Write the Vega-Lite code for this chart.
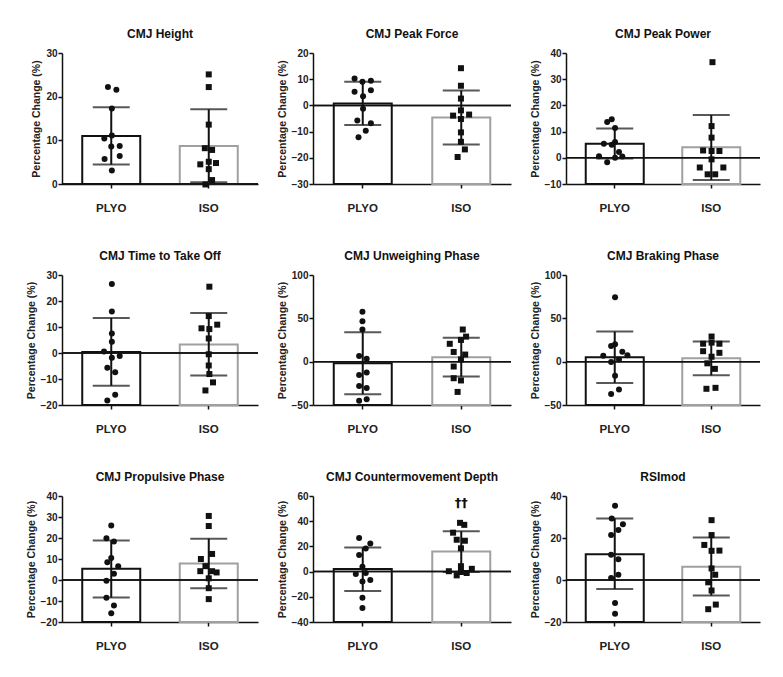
{
"$schema": "https://vega.github.io/schema/vega-lite/v6.json",
"background": "white",
"padding": {"left": 26, "top": 28, "right": 5, "bottom": 5},
"datasets": {
"summary": [
{"panel":"p1","group":"PLYO","mean":11.0,"lo":4.45,"hi":17.6},
{"panel":"p1","group":"ISO","mean":8.7,"lo":0.4,"hi":17.1},
{"panel":"p2","group":"PLYO","mean":0.7,"lo":-7.5,"hi":9.0},
{"panel":"p2","group":"ISO","mean":-4.6,"lo":-14.9,"hi":5.7},
{"panel":"p3","group":"PLYO","mean":5.4,"lo":-0.3,"hi":11.2},
{"panel":"p3","group":"ISO","mean":4.0,"lo":-8.5,"hi":16.3},
{"panel":"p4","group":"PLYO","mean":0.4,"lo":-12.6,"hi":13.5},
{"panel":"p4","group":"ISO","mean":3.3,"lo":-8.7,"hi":15.4},
{"panel":"p5","group":"PLYO","mean":-1.8,"lo":-37.5,"hi":33.8},
{"panel":"p5","group":"ISO","mean":5.2,"lo":-17.2,"hi":27.7},
{"panel":"p6","group":"PLYO","mean":5.0,"lo":-24.5,"hi":34.7},
{"panel":"p6","group":"ISO","mean":3.8,"lo":-15.8,"hi":23.4},
{"panel":"p7","group":"PLYO","mean":5.3,"lo":-8.3,"hi":18.8},
{"panel":"p7","group":"ISO","mean":7.8,"lo":-3.9,"hi":19.7},
{"panel":"p8","group":"PLYO","mean":2.0,"lo":-15.3,"hi":19.1},
{"panel":"p8","group":"ISO","mean":16.0,"lo":-0.3,"hi":32.0},
{"panel":"p9","group":"PLYO","mean":12.3,"lo":-4.3,"hi":29.3},
{"panel":"p9","group":"ISO","mean":6.3,"lo":-7.4,"hi":20.2}
],
"points": [
{"panel":"p1","group":"PLYO","v":22.2,"j":-0.11},{"panel":"p1","group":"PLYO","v":21.6,"j":0.17},{"panel":"p1","group":"PLYO","v":17.3,"j":0.02},{"panel":"p1","group":"PLYO","v":10.4,"j":-0.23},{"panel":"p1","group":"PLYO","v":11.1,"j":0.02},{"panel":"p1","group":"PLYO","v":8.6,"j":0},{"panel":"p1","group":"PLYO","v":8.7,"j":0.28},{"panel":"p1","group":"PLYO","v":5.7,"j":-0.22},{"panel":"p1","group":"PLYO","v":6.4,"j":0.28},{"panel":"p1","group":"PLYO","v":3.1,"j":0.02},
{"panel":"p1","group":"ISO","v":25.1,"j":0},{"panel":"p1","group":"ISO","v":22.2,"j":0},{"panel":"p1","group":"ISO","v":13.6,"j":0},{"panel":"p1","group":"ISO","v":8.2,"j":-0.13},{"panel":"p1","group":"ISO","v":7.8,"j":0.11},{"panel":"p1","group":"ISO","v":4.5,"j":-0.28},{"panel":"p1","group":"ISO","v":5.1,"j":0},{"panel":"p1","group":"ISO","v":4.8,"j":0.24},{"panel":"p1","group":"ISO","v":3.4,"j":0},{"panel":"p1","group":"ISO","v":0.9,"j":0.11},{"panel":"p1","group":"ISO","v":-0.1,"j":-0.11},
{"panel":"p2","group":"PLYO","v":10.3,"j":-0.26},{"panel":"p2","group":"PLYO","v":9.0,"j":0},{"panel":"p2","group":"PLYO","v":9.4,"j":0.28},{"panel":"p2","group":"PLYO","v":5.2,"j":-0.26},{"panel":"p2","group":"PLYO","v":5.8,"j":0.28},{"panel":"p2","group":"PLYO","v":3.5,"j":0.02},{"panel":"p2","group":"PLYO","v":-1.3,"j":0.02},{"panel":"p2","group":"PLYO","v":-5.8,"j":-0.17},{"panel":"p2","group":"PLYO","v":-6.8,"j":0.28},{"panel":"p2","group":"PLYO","v":-9.7,"j":0.11},{"panel":"p2","group":"PLYO","v":-12.2,"j":-0.13},
{"panel":"p2","group":"ISO","v":14.2,"j":0},{"panel":"p2","group":"ISO","v":7.5,"j":0},{"panel":"p2","group":"ISO","v":2.6,"j":0},{"panel":"p2","group":"ISO","v":-1.9,"j":0},{"panel":"p2","group":"ISO","v":-3.9,"j":-0.26},{"panel":"p2","group":"ISO","v":-3.5,"j":0.27},{"panel":"p2","group":"ISO","v":-5.2,"j":0},{"panel":"p2","group":"ISO","v":-10.3,"j":0},{"panel":"p2","group":"ISO","v":-13.9,"j":0},{"panel":"p2","group":"ISO","v":-16.8,"j":0.13},{"panel":"p2","group":"ISO","v":-19.7,"j":-0.11},
{"panel":"p3","group":"PLYO","v":14.7,"j":-0.11},{"panel":"p3","group":"PLYO","v":13.7,"j":-0.26},{"panel":"p3","group":"PLYO","v":11.4,"j":0},{"panel":"p3","group":"PLYO","v":5.4,"j":-0.37},{"panel":"p3","group":"PLYO","v":6.0,"j":0},{"panel":"p3","group":"PLYO","v":5.0,"j":-0.11},{"panel":"p3","group":"PLYO","v":2.2,"j":0.13},{"panel":"p3","group":"PLYO","v":0.6,"j":-0.53},{"panel":"p3","group":"PLYO","v":0.5,"j":0.24},{"panel":"p3","group":"PLYO","v":-1.7,"j":-0.26},{"panel":"p3","group":"PLYO","v":0.0,"j":0},
{"panel":"p3","group":"ISO","v":36.5,"j":0.03},{"panel":"p3","group":"ISO","v":12.1,"j":0},{"panel":"p3","group":"ISO","v":7.7,"j":0},{"panel":"p3","group":"ISO","v":2.8,"j":-0.28},{"panel":"p3","group":"ISO","v":2.6,"j":0},{"panel":"p3","group":"ISO","v":2.6,"j":0.26},{"panel":"p3","group":"ISO","v":-0.6,"j":0},{"panel":"p3","group":"ISO","v":-3.7,"j":-0.39},{"panel":"p3","group":"ISO","v":-3.7,"j":0.39},{"panel":"p3","group":"ISO","v":-6.3,"j":-0.13},{"panel":"p3","group":"ISO","v":-6.3,"j":0.12},
{"panel":"p4","group":"PLYO","v":26.5,"j":0.02},{"panel":"p4","group":"PLYO","v":16.0,"j":0.02},{"panel":"p4","group":"PLYO","v":7.5,"j":0.02},{"panel":"p4","group":"PLYO","v":4.3,"j":0.02},{"panel":"p4","group":"PLYO","v":0.6,"j":-0.24},{"panel":"p4","group":"PLYO","v":-1.8,"j":0.02},{"panel":"p4","group":"PLYO","v":-1.2,"j":0.28},{"panel":"p4","group":"PLYO","v":-5.7,"j":-0.13},{"panel":"p4","group":"PLYO","v":-7.4,"j":0.13},{"panel":"p4","group":"PLYO","v":-16.1,"j":0.13},{"panel":"p4","group":"PLYO","v":-18.3,"j":-0.13},
{"panel":"p4","group":"ISO","v":25.5,"j":0.02},{"panel":"p4","group":"ISO","v":14.2,"j":0},{"panel":"p4","group":"ISO","v":9.5,"j":-0.24},{"panel":"p4","group":"ISO","v":9.2,"j":0.02},{"panel":"p4","group":"ISO","v":10.9,"j":0.28},{"panel":"p4","group":"ISO","v":5.6,"j":0},{"panel":"p4","group":"ISO","v":-0.5,"j":0},{"panel":"p4","group":"ISO","v":-4.8,"j":0},{"panel":"p4","group":"ISO","v":-8.1,"j":0.02},{"panel":"p4","group":"ISO","v":-11.3,"j":0.14},{"panel":"p4","group":"ISO","v":-14.4,"j":-0.11},
{"panel":"p5","group":"PLYO","v":57.7,"j":0},{"panel":"p5","group":"PLYO","v":46.5,"j":0},{"panel":"p5","group":"PLYO","v":37.1,"j":0},{"panel":"p5","group":"PLYO","v":6.4,"j":-0.11},{"panel":"p5","group":"PLYO","v":3.4,"j":0.14},{"panel":"p5","group":"PLYO","v":-15.4,"j":-0.11},{"panel":"p5","group":"PLYO","v":-12.4,"j":0.14},{"panel":"p5","group":"PLYO","v":-28.1,"j":-0.11},{"panel":"p5","group":"PLYO","v":-30.4,"j":0.14},{"panel":"p5","group":"PLYO","v":-45.0,"j":-0.11},{"panel":"p5","group":"PLYO","v":-43.5,"j":0.14},
{"panel":"p5","group":"ISO","v":37.1,"j":0.06},{"panel":"p5","group":"ISO","v":28.9,"j":0.17},{"panel":"p5","group":"ISO","v":25.1,"j":0},{"panel":"p5","group":"ISO","v":20.6,"j":-0.37},{"panel":"p5","group":"ISO","v":11.2,"j":-0.24},{"panel":"p5","group":"ISO","v":8.2,"j":0.14},{"panel":"p5","group":"ISO","v":2.6,"j":0},{"panel":"p5","group":"ISO","v":-5.6,"j":-0.24},{"panel":"p5","group":"ISO","v":-19.1,"j":-0.24},{"panel":"p5","group":"ISO","v":-21.7,"j":0},{"panel":"p5","group":"ISO","v":-34.9,"j":-0.11},
{"panel":"p6","group":"PLYO","v":74.3,"j":0},{"panel":"p6","group":"PLYO","v":20.0,"j":0},{"panel":"p6","group":"PLYO","v":18.1,"j":-0.13},{"panel":"p6","group":"PLYO","v":11.3,"j":0.24},{"panel":"p6","group":"PLYO","v":6.8,"j":-0.39},{"panel":"p6","group":"PLYO","v":7.5,"j":0.41},{"panel":"p6","group":"PLYO","v":2.6,"j":0.13},{"panel":"p6","group":"PLYO","v":-0.4,"j":-0.13},{"panel":"p6","group":"PLYO","v":-16.2,"j":0},{"panel":"p6","group":"PLYO","v":-32.0,"j":0.13},{"panel":"p6","group":"PLYO","v":-37.3,"j":-0.13},
{"panel":"p6","group":"ISO","v":29.0,"j":0},{"panel":"p6","group":"ISO","v":20.7,"j":-0.28},{"panel":"p6","group":"ISO","v":22.0,"j":0},{"panel":"p6","group":"ISO","v":20.7,"j":0.26},{"panel":"p6","group":"ISO","v":12.1,"j":-0.28},{"panel":"p6","group":"ISO","v":10.2,"j":0.26},{"panel":"p6","group":"ISO","v":5.7,"j":0},{"panel":"p6","group":"ISO","v":-1.9,"j":-0.14},{"panel":"p6","group":"ISO","v":-8.3,"j":0.11},{"panel":"p6","group":"ISO","v":-31.3,"j":-0.17},{"panel":"p6","group":"ISO","v":-30.2,"j":0.13},
{"panel":"p7","group":"PLYO","v":26.0,"j":0},{"panel":"p7","group":"PLYO","v":19.9,"j":-0.16},{"panel":"p7","group":"PLYO","v":18.3,"j":0.09},{"panel":"p7","group":"PLYO","v":10.5,"j":0},{"panel":"p7","group":"PLYO","v":8.5,"j":-0.13},{"panel":"p7","group":"PLYO","v":6.6,"j":0.23},{"panel":"p7","group":"PLYO","v":3.0,"j":0.09},{"panel":"p7","group":"PLYO","v":-0.3,"j":-0.16},{"panel":"p7","group":"PLYO","v":-8.5,"j":-0.16},{"panel":"p7","group":"PLYO","v":-12.2,"j":0.09},{"panel":"p7","group":"PLYO","v":-15.8,"j":0},
{"panel":"p7","group":"ISO","v":30.5,"j":0},{"panel":"p7","group":"ISO","v":25.7,"j":0},{"panel":"p7","group":"ISO","v":12.4,"j":0.11},{"panel":"p7","group":"ISO","v":10.0,"j":-0.26},{"panel":"p7","group":"ISO","v":6.6,"j":-0.11},{"panel":"p7","group":"ISO","v":4.2,"j":-0.28},{"panel":"p7","group":"ISO","v":4.2,"j":0.11},{"panel":"p7","group":"ISO","v":3.6,"j":0.26},{"panel":"p7","group":"ISO","v":0.8,"j":0},{"panel":"p7","group":"ISO","v":-3.9,"j":0},{"panel":"p7","group":"ISO","v":-9.1,"j":0},
{"panel":"p8","group":"PLYO","v":26.6,"j":-0.11},{"panel":"p8","group":"PLYO","v":22.3,"j":0.26},{"panel":"p8","group":"PLYO","v":18.3,"j":0.11},{"panel":"p8","group":"PLYO","v":13.2,"j":-0.11},{"panel":"p8","group":"PLYO","v":3.8,"j":0},{"panel":"p8","group":"PLYO","v":-1.9,"j":-0.22},{"panel":"p8","group":"PLYO","v":-1.1,"j":0.11},{"panel":"p8","group":"PLYO","v":-7.8,"j":0},{"panel":"p8","group":"PLYO","v":-6.7,"j":0.26},{"panel":"p8","group":"PLYO","v":-20.7,"j":0},{"panel":"p8","group":"PLYO","v":-28.8,"j":0},
{"panel":"p8","group":"ISO","v":38.7,"j":-0.03},{"panel":"p8","group":"ISO","v":37.1,"j":0.11},{"panel":"p8","group":"ISO","v":30.9,"j":-0.26},{"panel":"p8","group":"ISO","v":25.3,"j":-0.14},{"panel":"p8","group":"ISO","v":24.5,"j":0.13},{"panel":"p8","group":"ISO","v":18.5,"j":0},{"panel":"p8","group":"ISO","v":4.3,"j":0},{"panel":"p8","group":"ISO","v":2.2,"j":0.36},{"panel":"p8","group":"ISO","v":0.3,"j":-0.4},{"panel":"p8","group":"ISO","v":-0.3,"j":0},{"panel":"p8","group":"ISO","v":-3.0,"j":-0.14},{"panel":"p8","group":"ISO","v":-1.1,"j":0.19},
{"panel":"p9","group":"PLYO","v":35.4,"j":0},{"panel":"p9","group":"PLYO","v":29.3,"j":-0.11},{"panel":"p9","group":"PLYO","v":26.5,"j":0.26},{"panel":"p9","group":"PLYO","v":23.8,"j":0.11},{"panel":"p9","group":"PLYO","v":21.4,"j":-0.13},{"panel":"p9","group":"PLYO","v":12.0,"j":-0.13},{"panel":"p9","group":"PLYO","v":9.9,"j":0.11},{"panel":"p9","group":"PLYO","v":2.5,"j":0.11},{"panel":"p9","group":"PLYO","v":0.9,"j":-0.13},{"panel":"p9","group":"PLYO","v":-11.0,"j":0},{"panel":"p9","group":"PLYO","v":-16.1,"j":0},
{"panel":"p9","group":"ISO","v":28.5,"j":0},{"panel":"p9","group":"ISO","v":21.4,"j":0},{"panel":"p9","group":"ISO","v":16.7,"j":-0.24},{"panel":"p9","group":"ISO","v":13.9,"j":0},{"panel":"p9","group":"ISO","v":14.0,"j":0.26},{"panel":"p9","group":"ISO","v":5.5,"j":0},{"panel":"p9","group":"ISO","v":2.5,"j":0.12},{"panel":"p9","group":"ISO","v":-1.1,"j":-0.11},{"panel":"p9","group":"ISO","v":-5.0,"j":0},{"panel":"p9","group":"ISO","v":-11.7,"j":0.14},{"panel":"p9","group":"ISO","v":-13.9,"j":-0.11}
],
"notes": [
{"panel":"p8","group":"ISO","v":54.6,"label":"††"}
]
},
"columns": 3,
"spacing": {"row": 36, "column": 18},
"concat": [
{"title":"CMJ Height","width":196,"height":131,"resolve":{"scale":{"x":"independent"}},
"layer":[
{"layer":[
{"data":{"name":"summary"},"transform":[{"filter":"datum.panel==='p1'"}],"mark":{"type":"bar","fill":"white","strokeWidth":2,"width":58},
"encoding":{"x":{"field":"group","type":"nominal","sort":["PLYO","ISO"],"title":null,"scale":{"paddingInner":0.38,"paddingOuter":0.195}},
"y":{"field":"mean","type":"quantitative","title":"Percentage Change (%)","scale":{"domain":[0,30],"nice":false,"zero":false},"axis":{"values":[0,10,20,30],"tickCount":20,"labelOverlap":false}},
"y2":{"datum":0},
"stroke":{"condition":{"test":"datum.group==='PLYO'","value":"#111111"},"value":"#a0a0a0"}}},
{"data":{"name":"summary"},"transform":[{"filter":"datum.panel==='p1'"}],"mark":{"type":"rule","color":"#111111","strokeWidth":1.5},"encoding":{"y":{"datum":0,"type":"quantitative","title":"Percentage Change (%)"}}},
{"data":{"name":"summary"},"transform":[{"filter":"datum.panel==='p1'"}],"mark":{"type":"rule","color":"#111111","strokeWidth":2},"encoding":{"x":{"field":"group","type":"nominal","sort":["PLYO","ISO"],"title":null},"y":{"field":"lo","type":"quantitative","title":"Percentage Change (%)"},"y2":{"field":"hi"}}},
{"data":{"name":"summary"},"transform":[{"filter":"datum.panel==='p1'"}],"mark":{"type":"tick","color":"#111111","thickness":2,"size":37},"encoding":{"x":{"field":"group","type":"nominal","sort":["PLYO","ISO"],"title":null},"y":{"field":"hi","type":"quantitative","title":"Percentage Change (%)"}}},
{"data":{"name":"summary"},"transform":[{"filter":"datum.panel==='p1'"}],"mark":{"type":"tick","color":"#111111","thickness":2,"size":37},"encoding":{"x":{"field":"group","type":"nominal","sort":["PLYO","ISO"],"title":null},"y":{"field":"lo","type":"quantitative","title":"Percentage Change (%)"}}}
]},
{"data":{"name":"points"},"transform":[{"filter":"datum.panel==='p1'"}],"mark":{"type":"point","filled":true,"color":"#111111","opacity":1,"size":36},"encoding":{"x":{"field":"group","type":"nominal","sort":["PLYO","ISO"],"axis":null,"scale":{"paddingInner":0.38,"paddingOuter":0.195}},"xOffset":{"field":"j","type":"quantitative","scale":{"domain":[-1,1]}},"y":{"field":"v","type":"quantitative","title":"Percentage Change (%)"},"shape":{"field":"group","type":"nominal","scale":{"domain":["PLYO","ISO"],"range":["circle","square"]},"legend":null}}}
]},
{"title":"CMJ Peak  Force","width":198,"height":131,"resolve":{"scale":{"x":"independent"}},
"layer":[
{"layer":[
{"data":{"name":"summary"},"transform":[{"filter":"datum.panel==='p2'"}],"mark":{"type":"bar","fill":"white","strokeWidth":2,"width":58},
"encoding":{"x":{"field":"group","type":"nominal","sort":["PLYO","ISO"],"title":null,"scale":{"paddingInner":0.38,"paddingOuter":0.195}},
"y":{"field":"mean","type":"quantitative","title":"Percentage Change (%)","scale":{"domain":[-30,20],"nice":false,"zero":false},"axis":{"values":[-30,-20,-10,0,10,20],"tickCount":20,"labelOverlap":false}},
"y2":{"datum":-30},
"stroke":{"condition":{"test":"datum.group==='PLYO'","value":"#111111"},"value":"#a0a0a0"}}},
{"data":{"name":"summary"},"transform":[{"filter":"datum.panel==='p2'"}],"mark":{"type":"rule","color":"#111111","strokeWidth":1.5},"encoding":{"y":{"datum":0,"type":"quantitative","title":"Percentage Change (%)"}}},
{"data":{"name":"summary"},"transform":[{"filter":"datum.panel==='p2'"}],"mark":{"type":"rule","color":"#111111","strokeWidth":2},"encoding":{"x":{"field":"group","type":"nominal","sort":["PLYO","ISO"],"title":null},"y":{"field":"lo","type":"quantitative","title":"Percentage Change (%)"},"y2":{"field":"hi"}}},
{"data":{"name":"summary"},"transform":[{"filter":"datum.panel==='p2'"}],"mark":{"type":"tick","color":"#111111","thickness":2,"size":37},"encoding":{"x":{"field":"group","type":"nominal","sort":["PLYO","ISO"],"title":null},"y":{"field":"hi","type":"quantitative","title":"Percentage Change (%)"}}},
{"data":{"name":"summary"},"transform":[{"filter":"datum.panel==='p2'"}],"mark":{"type":"tick","color":"#111111","thickness":2,"size":37},"encoding":{"x":{"field":"group","type":"nominal","sort":["PLYO","ISO"],"title":null},"y":{"field":"lo","type":"quantitative","title":"Percentage Change (%)"}}}
]},
{"data":{"name":"points"},"transform":[{"filter":"datum.panel==='p2'"}],"mark":{"type":"point","filled":true,"color":"#111111","opacity":1,"size":36},"encoding":{"x":{"field":"group","type":"nominal","sort":["PLYO","ISO"],"axis":null,"scale":{"paddingInner":0.38,"paddingOuter":0.195}},"xOffset":{"field":"j","type":"quantitative","scale":{"domain":[-1,1]}},"y":{"field":"v","type":"quantitative","title":"Percentage Change (%)"},"shape":{"field":"group","type":"nominal","scale":{"domain":["PLYO","ISO"],"range":["circle","square"]},"legend":null}}}
]},
{"title":"CMJ Peak  Power","width":194,"height":131,"resolve":{"scale":{"x":"independent"}},
"layer":[
{"layer":[
{"data":{"name":"summary"},"transform":[{"filter":"datum.panel==='p3'"}],"mark":{"type":"bar","fill":"white","strokeWidth":2,"width":58},
"encoding":{"x":{"field":"group","type":"nominal","sort":["PLYO","ISO"],"title":null,"scale":{"paddingInner":0.38,"paddingOuter":0.195}},
"y":{"field":"mean","type":"quantitative","title":"Percentage Change (%)","scale":{"domain":[-10,40],"nice":false,"zero":false},"axis":{"values":[-10,0,10,20,30,40],"tickCount":20,"labelOverlap":false}},
"y2":{"datum":-10},
"stroke":{"condition":{"test":"datum.group==='PLYO'","value":"#111111"},"value":"#a0a0a0"}}},
{"data":{"name":"summary"},"transform":[{"filter":"datum.panel==='p3'"}],"mark":{"type":"rule","color":"#111111","strokeWidth":1.5},"encoding":{"y":{"datum":0,"type":"quantitative","title":"Percentage Change (%)"}}},
{"data":{"name":"summary"},"transform":[{"filter":"datum.panel==='p3'"}],"mark":{"type":"rule","color":"#111111","strokeWidth":2},"encoding":{"x":{"field":"group","type":"nominal","sort":["PLYO","ISO"],"title":null},"y":{"field":"lo","type":"quantitative","title":"Percentage Change (%)"},"y2":{"field":"hi"}}},
{"data":{"name":"summary"},"transform":[{"filter":"datum.panel==='p3'"}],"mark":{"type":"tick","color":"#111111","thickness":2,"size":37},"encoding":{"x":{"field":"group","type":"nominal","sort":["PLYO","ISO"],"title":null},"y":{"field":"hi","type":"quantitative","title":"Percentage Change (%)"}}},
{"data":{"name":"summary"},"transform":[{"filter":"datum.panel==='p3'"}],"mark":{"type":"tick","color":"#111111","thickness":2,"size":37},"encoding":{"x":{"field":"group","type":"nominal","sort":["PLYO","ISO"],"title":null},"y":{"field":"lo","type":"quantitative","title":"Percentage Change (%)"}}}
]},
{"data":{"name":"points"},"transform":[{"filter":"datum.panel==='p3'"}],"mark":{"type":"point","filled":true,"color":"#111111","opacity":1,"size":36},"encoding":{"x":{"field":"group","type":"nominal","sort":["PLYO","ISO"],"axis":null,"scale":{"paddingInner":0.38,"paddingOuter":0.195}},"xOffset":{"field":"j","type":"quantitative","scale":{"domain":[-1,1]}},"y":{"field":"v","type":"quantitative","title":"Percentage Change (%)"},"shape":{"field":"group","type":"nominal","scale":{"domain":["PLYO","ISO"],"range":["circle","square"]},"legend":null}}}
]},
{"title":"CMJ Time to Take Off","width":196,"height":130,"resolve":{"scale":{"x":"independent"}},
"layer":[
{"layer":[
{"data":{"name":"summary"},"transform":[{"filter":"datum.panel==='p4'"}],"mark":{"type":"bar","fill":"white","strokeWidth":2,"width":58},
"encoding":{"x":{"field":"group","type":"nominal","sort":["PLYO","ISO"],"title":null,"scale":{"paddingInner":0.38,"paddingOuter":0.195}},
"y":{"field":"mean","type":"quantitative","title":"Percentage Change (%)","scale":{"domain":[-20,30],"nice":false,"zero":false},"axis":{"values":[-20,-10,0,10,20,30],"tickCount":20,"labelOverlap":false}},
"y2":{"datum":-20},
"stroke":{"condition":{"test":"datum.group==='PLYO'","value":"#111111"},"value":"#a0a0a0"}}},
{"data":{"name":"summary"},"transform":[{"filter":"datum.panel==='p4'"}],"mark":{"type":"rule","color":"#111111","strokeWidth":1.5},"encoding":{"y":{"datum":0,"type":"quantitative","title":"Percentage Change (%)"}}},
{"data":{"name":"summary"},"transform":[{"filter":"datum.panel==='p4'"}],"mark":{"type":"rule","color":"#111111","strokeWidth":2},"encoding":{"x":{"field":"group","type":"nominal","sort":["PLYO","ISO"],"title":null},"y":{"field":"lo","type":"quantitative","title":"Percentage Change (%)"},"y2":{"field":"hi"}}},
{"data":{"name":"summary"},"transform":[{"filter":"datum.panel==='p4'"}],"mark":{"type":"tick","color":"#111111","thickness":2,"size":37},"encoding":{"x":{"field":"group","type":"nominal","sort":["PLYO","ISO"],"title":null},"y":{"field":"hi","type":"quantitative","title":"Percentage Change (%)"}}},
{"data":{"name":"summary"},"transform":[{"filter":"datum.panel==='p4'"}],"mark":{"type":"tick","color":"#111111","thickness":2,"size":37},"encoding":{"x":{"field":"group","type":"nominal","sort":["PLYO","ISO"],"title":null},"y":{"field":"lo","type":"quantitative","title":"Percentage Change (%)"}}}
]},
{"data":{"name":"points"},"transform":[{"filter":"datum.panel==='p4'"}],"mark":{"type":"point","filled":true,"color":"#111111","opacity":1,"size":36},"encoding":{"x":{"field":"group","type":"nominal","sort":["PLYO","ISO"],"axis":null,"scale":{"paddingInner":0.38,"paddingOuter":0.195}},"xOffset":{"field":"j","type":"quantitative","scale":{"domain":[-1,1]}},"y":{"field":"v","type":"quantitative","title":"Percentage Change (%)"},"shape":{"field":"group","type":"nominal","scale":{"domain":["PLYO","ISO"],"range":["circle","square"]},"legend":null}}}
]},
{"title":"CMJ Unweighing Phase","width":198,"height":130,"resolve":{"scale":{"x":"independent"}},
"layer":[
{"layer":[
{"data":{"name":"summary"},"transform":[{"filter":"datum.panel==='p5'"}],"mark":{"type":"bar","fill":"white","strokeWidth":2,"width":58},
"encoding":{"x":{"field":"group","type":"nominal","sort":["PLYO","ISO"],"title":null,"scale":{"paddingInner":0.38,"paddingOuter":0.195}},
"y":{"field":"mean","type":"quantitative","title":"Percentage Change (%)","scale":{"domain":[-50,100],"nice":false,"zero":false},"axis":{"values":[-50,0,50,100],"tickCount":20,"labelOverlap":false}},
"y2":{"datum":-50},
"stroke":{"condition":{"test":"datum.group==='PLYO'","value":"#111111"},"value":"#a0a0a0"}}},
{"data":{"name":"summary"},"transform":[{"filter":"datum.panel==='p5'"}],"mark":{"type":"rule","color":"#111111","strokeWidth":1.5},"encoding":{"y":{"datum":0,"type":"quantitative","title":"Percentage Change (%)"}}},
{"data":{"name":"summary"},"transform":[{"filter":"datum.panel==='p5'"}],"mark":{"type":"rule","color":"#111111","strokeWidth":2},"encoding":{"x":{"field":"group","type":"nominal","sort":["PLYO","ISO"],"title":null},"y":{"field":"lo","type":"quantitative","title":"Percentage Change (%)"},"y2":{"field":"hi"}}},
{"data":{"name":"summary"},"transform":[{"filter":"datum.panel==='p5'"}],"mark":{"type":"tick","color":"#111111","thickness":2,"size":37},"encoding":{"x":{"field":"group","type":"nominal","sort":["PLYO","ISO"],"title":null},"y":{"field":"hi","type":"quantitative","title":"Percentage Change (%)"}}},
{"data":{"name":"summary"},"transform":[{"filter":"datum.panel==='p5'"}],"mark":{"type":"tick","color":"#111111","thickness":2,"size":37},"encoding":{"x":{"field":"group","type":"nominal","sort":["PLYO","ISO"],"title":null},"y":{"field":"lo","type":"quantitative","title":"Percentage Change (%)"}}}
]},
{"data":{"name":"points"},"transform":[{"filter":"datum.panel==='p5'"}],"mark":{"type":"point","filled":true,"color":"#111111","opacity":1,"size":36},"encoding":{"x":{"field":"group","type":"nominal","sort":["PLYO","ISO"],"axis":null,"scale":{"paddingInner":0.38,"paddingOuter":0.195}},"xOffset":{"field":"j","type":"quantitative","scale":{"domain":[-1,1]}},"y":{"field":"v","type":"quantitative","title":"Percentage Change (%)"},"shape":{"field":"group","type":"nominal","scale":{"domain":["PLYO","ISO"],"range":["circle","square"]},"legend":null}}}
]},
{"title":"CMJ Braking Phase","width":194,"height":130,"resolve":{"scale":{"x":"independent"}},
"layer":[
{"layer":[
{"data":{"name":"summary"},"transform":[{"filter":"datum.panel==='p6'"}],"mark":{"type":"bar","fill":"white","strokeWidth":2,"width":58},
"encoding":{"x":{"field":"group","type":"nominal","sort":["PLYO","ISO"],"title":null,"scale":{"paddingInner":0.38,"paddingOuter":0.195}},
"y":{"field":"mean","type":"quantitative","title":"Percentage Change (%)","scale":{"domain":[-50,100],"nice":false,"zero":false},"axis":{"values":[-50,0,50,100],"tickCount":20,"labelOverlap":false}},
"y2":{"datum":-50},
"stroke":{"condition":{"test":"datum.group==='PLYO'","value":"#111111"},"value":"#a0a0a0"}}},
{"data":{"name":"summary"},"transform":[{"filter":"datum.panel==='p6'"}],"mark":{"type":"rule","color":"#111111","strokeWidth":1.5},"encoding":{"y":{"datum":0,"type":"quantitative","title":"Percentage Change (%)"}}},
{"data":{"name":"summary"},"transform":[{"filter":"datum.panel==='p6'"}],"mark":{"type":"rule","color":"#111111","strokeWidth":2},"encoding":{"x":{"field":"group","type":"nominal","sort":["PLYO","ISO"],"title":null},"y":{"field":"lo","type":"quantitative","title":"Percentage Change (%)"},"y2":{"field":"hi"}}},
{"data":{"name":"summary"},"transform":[{"filter":"datum.panel==='p6'"}],"mark":{"type":"tick","color":"#111111","thickness":2,"size":37},"encoding":{"x":{"field":"group","type":"nominal","sort":["PLYO","ISO"],"title":null},"y":{"field":"hi","type":"quantitative","title":"Percentage Change (%)"}}},
{"data":{"name":"summary"},"transform":[{"filter":"datum.panel==='p6'"}],"mark":{"type":"tick","color":"#111111","thickness":2,"size":37},"encoding":{"x":{"field":"group","type":"nominal","sort":["PLYO","ISO"],"title":null},"y":{"field":"lo","type":"quantitative","title":"Percentage Change (%)"}}}
]},
{"data":{"name":"points"},"transform":[{"filter":"datum.panel==='p6'"}],"mark":{"type":"point","filled":true,"color":"#111111","opacity":1,"size":36},"encoding":{"x":{"field":"group","type":"nominal","sort":["PLYO","ISO"],"axis":null,"scale":{"paddingInner":0.38,"paddingOuter":0.195}},"xOffset":{"field":"j","type":"quantitative","scale":{"domain":[-1,1]}},"y":{"field":"v","type":"quantitative","title":"Percentage Change (%)"},"shape":{"field":"group","type":"nominal","scale":{"domain":["PLYO","ISO"],"range":["circle","square"]},"legend":null}}}
]},
{"title":"CMJ Propulsive Phase","width":196,"height":126,"resolve":{"scale":{"x":"independent"}},
"layer":[
{"layer":[
{"data":{"name":"summary"},"transform":[{"filter":"datum.panel==='p7'"}],"mark":{"type":"bar","fill":"white","strokeWidth":2,"width":58},
"encoding":{"x":{"field":"group","type":"nominal","sort":["PLYO","ISO"],"title":null,"scale":{"paddingInner":0.38,"paddingOuter":0.195}},
"y":{"field":"mean","type":"quantitative","title":"Percentage Change (%)","scale":{"domain":[-20,40],"nice":false,"zero":false},"axis":{"values":[-20,-10,0,10,20,30,40],"tickCount":20,"labelOverlap":false}},
"y2":{"datum":-20},
"stroke":{"condition":{"test":"datum.group==='PLYO'","value":"#111111"},"value":"#a0a0a0"}}},
{"data":{"name":"summary"},"transform":[{"filter":"datum.panel==='p7'"}],"mark":{"type":"rule","color":"#111111","strokeWidth":1.5},"encoding":{"y":{"datum":0,"type":"quantitative","title":"Percentage Change (%)"}}},
{"data":{"name":"summary"},"transform":[{"filter":"datum.panel==='p7'"}],"mark":{"type":"rule","color":"#111111","strokeWidth":2},"encoding":{"x":{"field":"group","type":"nominal","sort":["PLYO","ISO"],"title":null},"y":{"field":"lo","type":"quantitative","title":"Percentage Change (%)"},"y2":{"field":"hi"}}},
{"data":{"name":"summary"},"transform":[{"filter":"datum.panel==='p7'"}],"mark":{"type":"tick","color":"#111111","thickness":2,"size":37},"encoding":{"x":{"field":"group","type":"nominal","sort":["PLYO","ISO"],"title":null},"y":{"field":"hi","type":"quantitative","title":"Percentage Change (%)"}}},
{"data":{"name":"summary"},"transform":[{"filter":"datum.panel==='p7'"}],"mark":{"type":"tick","color":"#111111","thickness":2,"size":37},"encoding":{"x":{"field":"group","type":"nominal","sort":["PLYO","ISO"],"title":null},"y":{"field":"lo","type":"quantitative","title":"Percentage Change (%)"}}}
]},
{"data":{"name":"points"},"transform":[{"filter":"datum.panel==='p7'"}],"mark":{"type":"point","filled":true,"color":"#111111","opacity":1,"size":36},"encoding":{"x":{"field":"group","type":"nominal","sort":["PLYO","ISO"],"axis":null,"scale":{"paddingInner":0.38,"paddingOuter":0.195}},"xOffset":{"field":"j","type":"quantitative","scale":{"domain":[-1,1]}},"y":{"field":"v","type":"quantitative","title":"Percentage Change (%)"},"shape":{"field":"group","type":"nominal","scale":{"domain":["PLYO","ISO"],"range":["circle","square"]},"legend":null}}}
]},
{"title":"CMJ Countermovement Depth","width":198,"height":126,"resolve":{"scale":{"x":"independent"}},
"layer":[
{"layer":[
{"data":{"name":"summary"},"transform":[{"filter":"datum.panel==='p8'"}],"mark":{"type":"bar","fill":"white","strokeWidth":2,"width":58},
"encoding":{"x":{"field":"group","type":"nominal","sort":["PLYO","ISO"],"title":null,"scale":{"paddingInner":0.38,"paddingOuter":0.195}},
"y":{"field":"mean","type":"quantitative","title":"Percentage Change (%)","scale":{"domain":[-40,60],"nice":false,"zero":false},"axis":{"values":[-40,-20,0,20,40,60],"tickCount":20,"labelOverlap":false}},
"y2":{"datum":-40},
"stroke":{"condition":{"test":"datum.group==='PLYO'","value":"#111111"},"value":"#a0a0a0"}}},
{"data":{"name":"summary"},"transform":[{"filter":"datum.panel==='p8'"}],"mark":{"type":"rule","color":"#111111","strokeWidth":1.5},"encoding":{"y":{"datum":0,"type":"quantitative","title":"Percentage Change (%)"}}},
{"data":{"name":"summary"},"transform":[{"filter":"datum.panel==='p8'"}],"mark":{"type":"rule","color":"#111111","strokeWidth":2},"encoding":{"x":{"field":"group","type":"nominal","sort":["PLYO","ISO"],"title":null},"y":{"field":"lo","type":"quantitative","title":"Percentage Change (%)"},"y2":{"field":"hi"}}},
{"data":{"name":"summary"},"transform":[{"filter":"datum.panel==='p8'"}],"mark":{"type":"tick","color":"#111111","thickness":2,"size":37},"encoding":{"x":{"field":"group","type":"nominal","sort":["PLYO","ISO"],"title":null},"y":{"field":"hi","type":"quantitative","title":"Percentage Change (%)"}}},
{"data":{"name":"summary"},"transform":[{"filter":"datum.panel==='p8'"}],"mark":{"type":"tick","color":"#111111","thickness":2,"size":37},"encoding":{"x":{"field":"group","type":"nominal","sort":["PLYO","ISO"],"title":null},"y":{"field":"lo","type":"quantitative","title":"Percentage Change (%)"}}},
{"data":{"name":"notes"},"mark":{"type":"text","color":"#111111","fontSize":13,"fontWeight":"bold","font":"DejaVu Sans"},"encoding":{"x":{"field":"group","type":"nominal","sort":["PLYO","ISO"],"title":null},"y":{"field":"v","type":"quantitative","title":"Percentage Change (%)"},"text":{"field":"label"}}}
]},
{"data":{"name":"points"},"transform":[{"filter":"datum.panel==='p8'"}],"mark":{"type":"point","filled":true,"color":"#111111","opacity":1,"size":36},"encoding":{"x":{"field":"group","type":"nominal","sort":["PLYO","ISO"],"axis":null,"scale":{"paddingInner":0.38,"paddingOuter":0.195}},"xOffset":{"field":"j","type":"quantitative","scale":{"domain":[-1,1]}},"y":{"field":"v","type":"quantitative","title":"Percentage Change (%)"},"shape":{"field":"group","type":"nominal","scale":{"domain":["PLYO","ISO"],"range":["circle","square"]},"legend":null}}}
]},
{"title":"RSImod","width":194,"height":126,"resolve":{"scale":{"x":"independent"}},
"layer":[
{"layer":[
{"data":{"name":"summary"},"transform":[{"filter":"datum.panel==='p9'"}],"mark":{"type":"bar","fill":"white","strokeWidth":2,"width":58},
"encoding":{"x":{"field":"group","type":"nominal","sort":["PLYO","ISO"],"title":null,"scale":{"paddingInner":0.38,"paddingOuter":0.195}},
"y":{"field":"mean","type":"quantitative","title":"Percentage Change (%)","scale":{"domain":[-20,40],"nice":false,"zero":false},"axis":{"values":[-20,0,20,40],"tickCount":20,"labelOverlap":false}},
"y2":{"datum":-20},
"stroke":{"condition":{"test":"datum.group==='PLYO'","value":"#111111"},"value":"#a0a0a0"}}},
{"data":{"name":"summary"},"transform":[{"filter":"datum.panel==='p9'"}],"mark":{"type":"rule","color":"#111111","strokeWidth":1.5},"encoding":{"y":{"datum":0,"type":"quantitative","title":"Percentage Change (%)"}}},
{"data":{"name":"summary"},"transform":[{"filter":"datum.panel==='p9'"}],"mark":{"type":"rule","color":"#111111","strokeWidth":2},"encoding":{"x":{"field":"group","type":"nominal","sort":["PLYO","ISO"],"title":null},"y":{"field":"lo","type":"quantitative","title":"Percentage Change (%)"},"y2":{"field":"hi"}}},
{"data":{"name":"summary"},"transform":[{"filter":"datum.panel==='p9'"}],"mark":{"type":"tick","color":"#111111","thickness":2,"size":37},"encoding":{"x":{"field":"group","type":"nominal","sort":["PLYO","ISO"],"title":null},"y":{"field":"hi","type":"quantitative","title":"Percentage Change (%)"}}},
{"data":{"name":"summary"},"transform":[{"filter":"datum.panel==='p9'"}],"mark":{"type":"tick","color":"#111111","thickness":2,"size":37},"encoding":{"x":{"field":"group","type":"nominal","sort":["PLYO","ISO"],"title":null},"y":{"field":"lo","type":"quantitative","title":"Percentage Change (%)"}}}
]},
{"data":{"name":"points"},"transform":[{"filter":"datum.panel==='p9'"}],"mark":{"type":"point","filled":true,"color":"#111111","opacity":1,"size":36},"encoding":{"x":{"field":"group","type":"nominal","sort":["PLYO","ISO"],"axis":null,"scale":{"paddingInner":0.38,"paddingOuter":0.195}},"xOffset":{"field":"j","type":"quantitative","scale":{"domain":[-1,1]}},"y":{"field":"v","type":"quantitative","title":"Percentage Change (%)"},"shape":{"field":"group","type":"nominal","scale":{"domain":["PLYO","ISO"],"range":["circle","square"]},"legend":null}}}
]}
],
"config": {
"font": "Liberation Sans",
"view": {"stroke": null},
"axis": {"labelFont":"Liberation Sans","titleFont":"Liberation Sans","labelFontWeight":"bold","titleFontWeight":"bold","labelColor":"#222222","titleColor":"#222222","domainColor":"#111111","tickColor":"#111111","domainWidth":1.5,"tickWidth":1.5,"grid":false},
"axisY": {"labelFontSize":10,"tickSize":4,"labelPadding":1,"titleFontSize":10.5,"titlePadding":4,"labelOverlap":false,"tickCount":20},
"axisX": {"labelFontSize":11.5,"labelAngle":0,"tickSize":4,"labelPadding":14},
"title": {"fontSize":12,"fontWeight":"bold","font":"Liberation Sans","color":"#111111","offset":7}
}
}
